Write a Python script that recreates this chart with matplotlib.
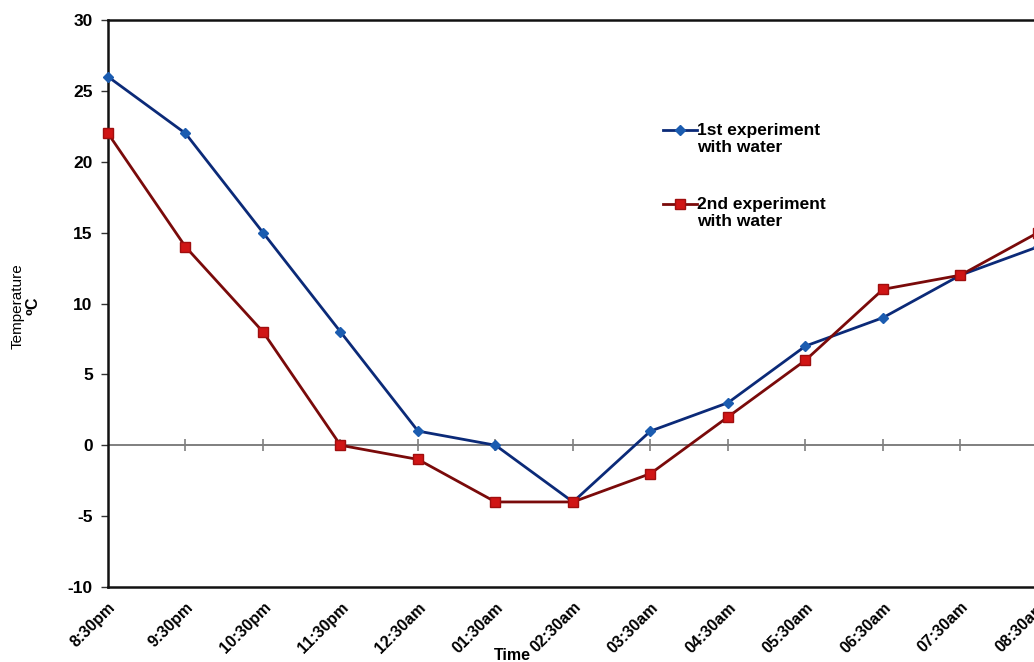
import numpy as np
import matplotlib
matplotlib.use('Agg')
import matplotlib.pyplot as plt
import matplotlib.transforms as mtransforms
from matplotlib.lines import Line2D

plt.rcParams['font.family'] = ['Liberation Sans', 'DejaVu Sans']

# Overnight temperature readings, one per hour
times = ["8:30pm", "9:30pm", "10:30pm", "11:30pm", "12:30am", "01:30am",
         "02:30am", "03:30am", "04:30am", "05:30am", "06:30am", "07:30am",
         "08:30am"]
first_run = [26, 22, 15, 8, 1, 0, -4, 1, 3, 7, 9, 12, 14]
second_run = [22, 14, 8, 0, -1, -4, -4, -2, 2, 6, 11, 12, 15]
labels = ["1st experiment\nwith water", "2nd experiment\nwith water"]
y_ticks = [-10, -5, 0, 5, 10, 15, 20, 25, 30]

style_1 = dict(color="#0b2a78", lw=2, marker="D", ms=5.5,
               mfc="#1b5cb0", mec="#1b5cb0")
style_2 = dict(color="#7a0a0a", lw=2, marker="s", ms=7.5,
               mfc="#d01515", mec="#a00e0e")

x = np.arange(len(times))

W, H = 1034, 662
fig = plt.figure(figsize=(W / 100, H / 100), dpi=100)
ax = fig.add_axes([108 / W, 1 - 587 / H, 930 / W, 567 / H])

# zero line with category tick marks
ax.plot(x, np.zeros(len(x)), color="#7f7f7f", lw=1.4, marker="|",
        ms=9, mew=1.2, zorder=1)

ax.plot(x, first_run, zorder=3, clip_on=False, **style_1)
ax.plot(x, second_run, zorder=3, clip_on=False, **style_2)

ax.set_xlim(0, 12)
ax.set_ylim(-10, 30)
ax.set_yticks(y_ticks)
ax.set_yticklabels([str(v) for v in y_ticks], fontsize=12.5, fontweight="bold")
ax.set_xticks(x)
ax.set_xticklabels(times, rotation=45, ha="right", va="top",
                   rotation_mode="anchor", fontsize=11.5, fontweight="bold")
shift = mtransforms.ScaledTranslation(-6 / 100, 0, fig.dpi_scale_trans)
for lbl in ax.get_xticklabels():
    lbl.set_transform(lbl.get_transform() + shift)
ax.tick_params(axis="x", length=0, pad=9)
ax.tick_params(axis="y", direction="out", length=5, width=1, pad=6,
               color="#333333")

for side in ("left", "bottom", "top"):
    ax.spines[side].set_linewidth(1.8)
    ax.spines[side].set_color("#111111")
ax.spines["right"].set_visible(False)

fig.text(512 / W, 1 - 656 / H, "Time", ha="center", va="center",
         fontsize=11.5, fontweight="bold")
fig.text(18 / W, 1 - 306 / H, "Temperature", rotation=90,
         ha="center", va="center", fontsize=11)
fig.text(33 / W, 1 - 306 / H, "\u2070C", rotation=90,
         ha="center", va="center", fontsize=11.5, fontweight="bold")

# legend: handle level with the first text line
for style, label, y_px in ((style_1, labels[0], 130), (style_2, labels[1], 204)):
    yf = 1 - y_px / H
    fig.add_artist(Line2D([663 / W, 680 / W, 697 / W], [yf, yf, yf],
                          transform=fig.transFigure, markevery=[1], **style))
    fig.text(697 / W, 1 - (y_px - 7) / H, label, ha="left", va="top",
             fontsize=12.5, fontweight="bold", linespacing=1.15)

fig.savefig("out.png", dpi=100)
